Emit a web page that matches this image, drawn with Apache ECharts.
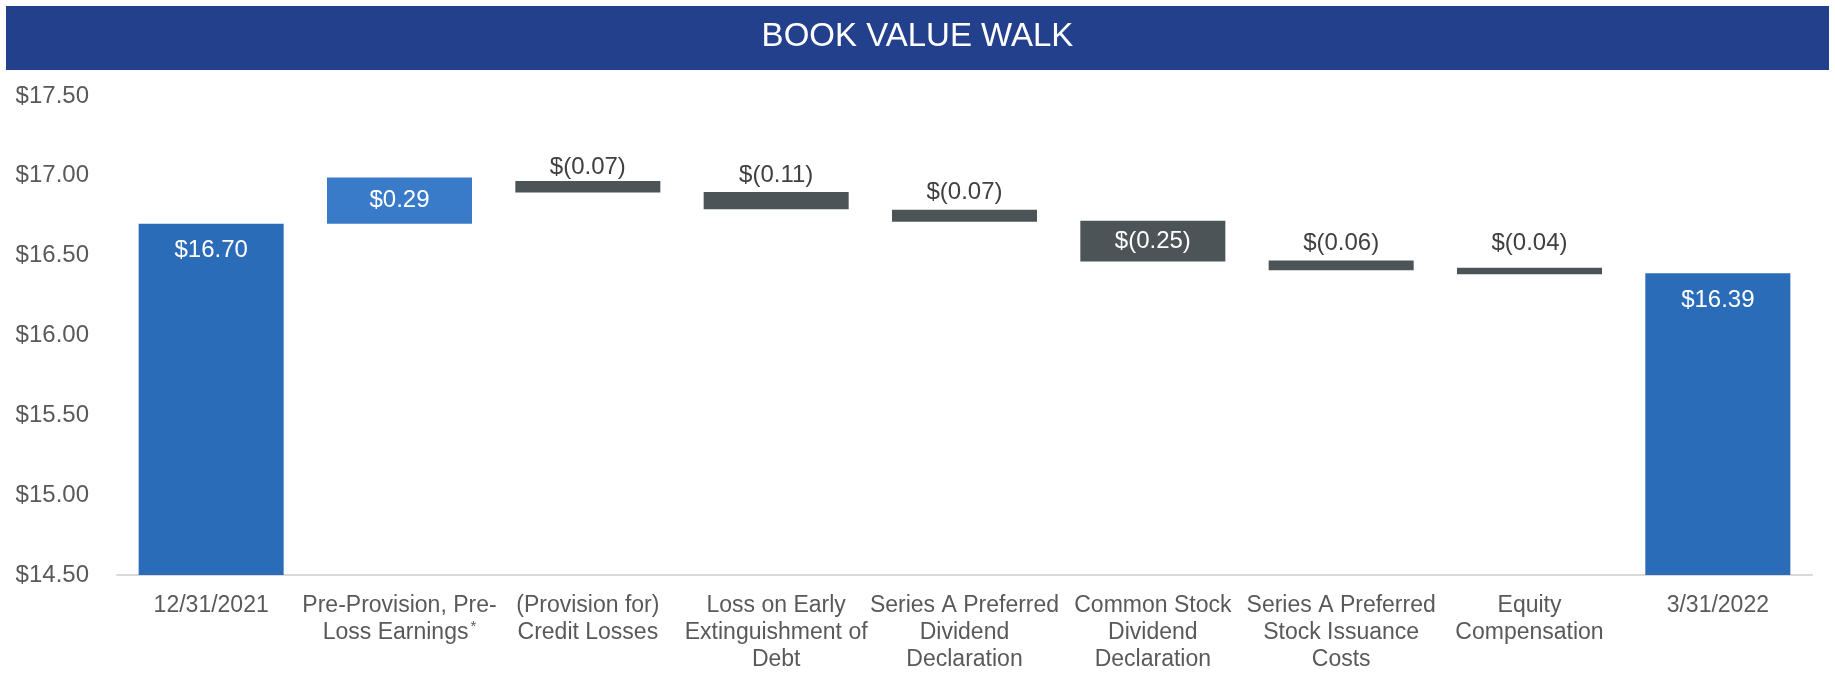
<!DOCTYPE html>
<html>
<head>
<meta charset="utf-8">
<script src="https://cdn.jsdelivr.net/npm/echarts@6/dist/echarts.min.js"></script>
<style>
html,body{margin:0;padding:0;background:#fff;}
#chart{width:1835px;height:673px;}
</style>
</head>
<body>
<div id="chart"></div>
<script>
const titleText = 'BOOK VALUE WALK';
const categories = [
  '12/31/2021',
  'Pre-Provision, Pre-\nLoss Earnings*',
  '(Provision for)\nCredit Losses',
  'Loss on Early\nExtinguishment of\nDebt',
  'Series A Preferred\nDividend\nDeclaration',
  'Common Stock\nDividend\nDeclaration',
  'Series A Preferred\nStock Issuance\nCosts',
  'Equity\nCompensation',
  '3/31/2022'
];
// bottom and top of each bar
const barLow  = [0,     16.70, 16.895, 16.79,  16.712, 16.464, 16.408, 16.384, 0];
const barHigh = [16.70, 16.99, 16.967, 16.899, 16.787, 16.718, 16.469, 16.425, 16.39];
const barKind = ['total','increase','decrease','decrease','decrease','decrease','decrease','decrease','total'];
const valueLabels = ['$16.70','$0.29','$(0.07)','$(0.11)','$(0.07)','$(0.25)','$(0.06)','$(0.04)','$16.39'];
const yTicks = { min: 14.5, max: 17.5, interval: 0.5 };

// styling only
const kindColor = { total: '#2B6CB8', increase: '#3A7BC9', decrease: '#4C5457' };
const FONT = '"Liberation Sans", Arial, sans-serif';
const labelGapOverride = { 2: 2, 7: 12 };

const chart = echarts.init(document.getElementById('chart'), null, { renderer: 'canvas' });

const visibleData = barHigh.map((h, i) => {
  const size = h - barLow[i];
  const kind = barKind[i];
  let pos, color, dist = 5;
  if (kind === 'total') { pos = 'insideTop'; color = '#ffffff'; dist = 15; }
  else if (size >= 0.2) { pos = 'inside'; color = '#ffffff'; }
  else { pos = 'top'; color = '#404040'; if (labelGapOverride[i] !== undefined) dist = labelGapOverride[i]; }
  return {
    value: size,
    itemStyle: { color: kindColor[kind] },
    label: { show: true, position: pos, color: color, distance: dist,
             formatter: () => valueLabels[i] }
  };
});

const option = {
  animation: false,
  backgroundColor: '#ffffff',
  graphic: [
    { type: 'rect', left: 6, top: 6, shape: { width: 1823, height: 64 },
      style: { fill: '#23408D' }, z: 10 },
    { type: 'text', left: 'center', top: 20, z: 11,
      style: { text: titleText, fill: '#ffffff', font: 'normal 33px ' + FONT } }
  ],
  grid: { left: 117, right: 23, top: 96, bottom: 95.5, containLabel: false },
  xAxis: {
    type: 'category',
    data: categories,
    axisLine: { show: true, lineStyle: { color: '#D9D9D9', width: 2 } },
    axisTick: { show: false },
    axisLabel: {
      interval: 0,
      margin: 17,
      color: '#595959',
      fontFamily: FONT,
      fontSize: 23,
      lineHeight: 27,
      align: 'center',
      formatter: v => v.replace('*', '{sup|*}'),
      rich: {
        sup: { fontSize: 15, color: '#595959', fontFamily: FONT, verticalAlign: 'top', lineHeight: 27, padding: [0, 0, 10, 2] }
      }
    }
  },
  yAxis: {
    type: 'value',
    min: yTicks.min,
    max: yTicks.max,
    interval: yTicks.interval,
    splitLine: { show: false },
    axisLine: { show: false },
    axisTick: { show: false },
    axisLabel: {
      margin: 28,
      color: '#595959',
      fontFamily: FONT,
      fontSize: 24,
      formatter: v => '$' + v.toFixed(2)
    }
  },
  series: [
    {
      type: 'bar', stack: 'walk', name: 'base',
      data: barLow,
      barWidth: '77%',
      itemStyle: { color: 'transparent' },
      emphasis: { disabled: true },
      silent: true
    },
    {
      type: 'bar', stack: 'walk', name: 'change',
      data: visibleData,
      barWidth: '77%',
      label: { fontFamily: FONT, fontSize: 24 },
      emphasis: { disabled: true }
    }
  ]
};
chart.setOption(option);
</script>
</body>
</html>
